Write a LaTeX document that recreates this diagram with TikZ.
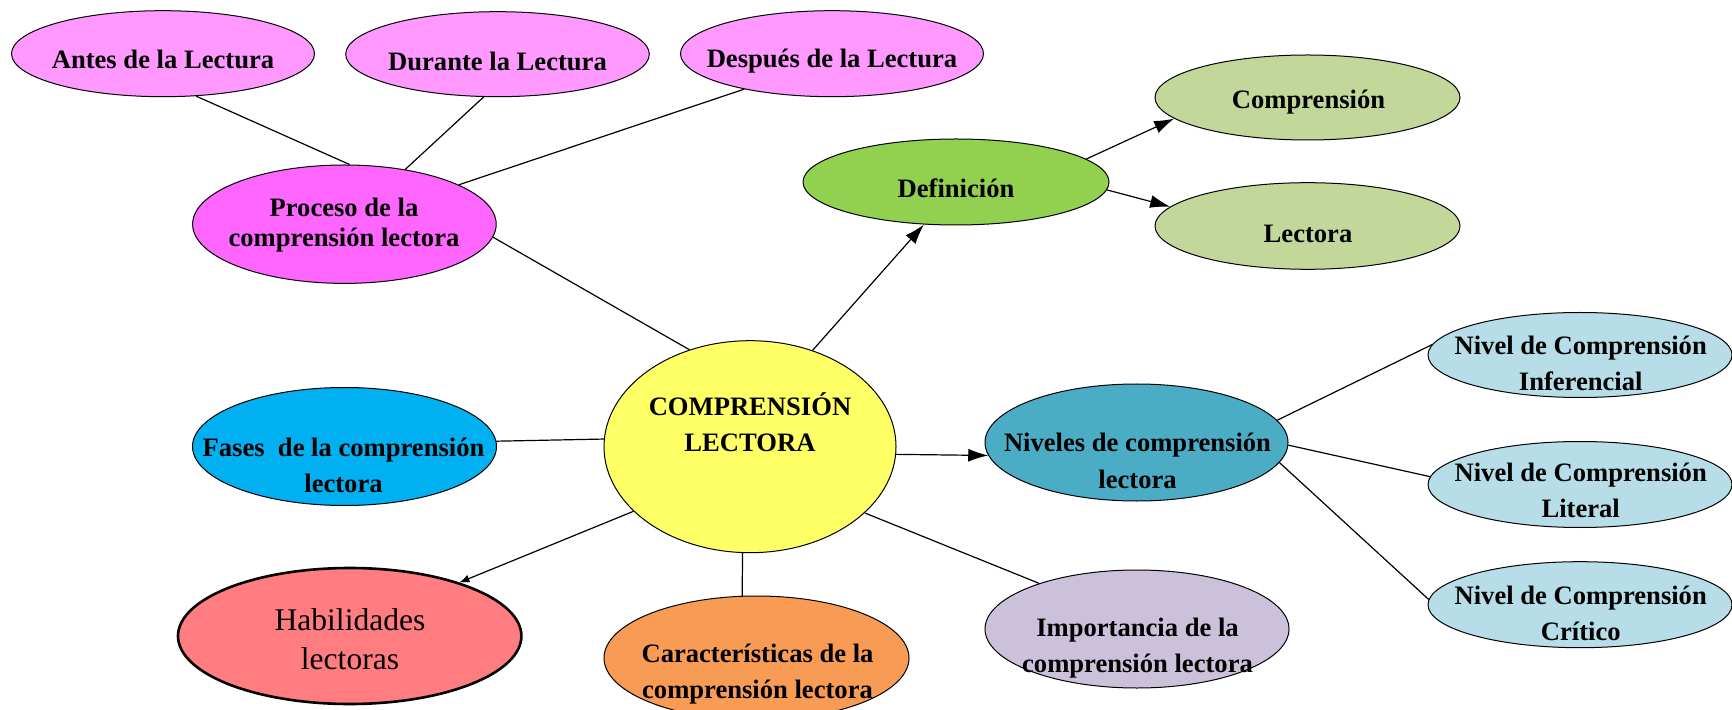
\documentclass[tikz,border=0pt]{standalone}
\usepackage{fontspec}
\setmainfont{Liberation Serif}
\usetikzlibrary{shapes.geometric,arrows.meta}
\definecolor{pinkA}{HTML}{FF99FF}
\definecolor{pinkB}{HTML}{FF66FF}
\definecolor{greenA}{HTML}{92D050}
\definecolor{oliveA}{HTML}{C4D79B}
\definecolor{yellowA}{HTML}{FFFF66}
\definecolor{blueA}{HTML}{00B0F0}
\definecolor{tealA}{HTML}{4BACC6}
\definecolor{lightblue}{HTML}{B7DEE8}
\definecolor{salmonA}{HTML}{FF7C80}
\definecolor{orangeA}{HTML}{F79B55}
\definecolor{lilacA}{HTML}{CCC1DA}
\begin{document}
\begin{tikzpicture}[x=0.5pt,y=-0.5pt,
  ell/.style={ellipse,draw=black,line width=0.5pt,inner sep=0pt},
  txt/.style={align=center,font=\bfseries\fontsize{13.3}{18}\selectfont,inner sep=0pt},
  conn/.style={line width=0.6pt},
  arr/.style={line width=0.6pt,-{Latex[length=10pt,width=6.5pt]}}]
\useasboundingbox (0,0) rectangle (1732,710);
\clip (0,0) rectangle (1732,710);
% ellipses
\node[ell,fill=pinkA,minimum width=151.5pt,minimum height=43pt] (antes) at (163,53.7) {};
\node[ell,fill=pinkA,minimum width=151.8pt,minimum height=42.5pt] (durante) at (497.5,54.2) {};
\node[ell,fill=pinkA,minimum width=151.5pt,minimum height=43pt] (despues) at (832,53.7) {};
\node[ell,fill=pinkB,minimum width=151.8pt,minimum height=59.2pt] (proceso) at (344.4,224.2) {};
\node[ell,fill=greenA,minimum width=153pt,minimum height=43pt] (definicion) at (956,182) {};
\node[ell,fill=oliveA,minimum width=152.5pt,minimum height=42.5pt] (comprension) at (1307.5,97.5) {};
\node[ell,fill=oliveA,minimum width=152.5pt,minimum height=43.3pt] (lectora) at (1307.5,226) {};
\node[ell,fill=yellowA,minimum width=146pt,minimum height=106pt] (central) at (750,446.7) {};
\node[ell,fill=blueA,minimum width=152pt,minimum height=59pt] (fases) at (344.5,446.5) {};
\node[ell,fill=tealA,minimum width=151.5pt,minimum height=58.5pt] (niveles) at (1136.5,442.5) {};
\node[ell,fill=lightblue,minimum width=152pt,minimum height=42.5pt] (inferencial) at (1580,355) {};
\node[ell,fill=lightblue,minimum width=152pt,minimum height=43pt] (literal) at (1580,484.5) {};
\node[ell,fill=lightblue,minimum width=152pt,minimum height=43pt] (critico) at (1580,604.7) {};
\node[ell,fill=salmonA,line width=1.3pt,minimum width=171.7pt,minimum height=68pt] (habilidades) at (349.7,636) {};
\node[ell,fill=orangeA,minimum width=152.5pt,minimum height=62pt] (caract) at (756.5,658) {};
\node[ell,fill=lilacA,minimum width=152pt,minimum height=59pt] (importancia) at (1137,629) {};
% texts
\node[txt] (t-antes) at (163,59) {Antes de la Lectura};
\node[txt] (t-durante) at (497.5,61) {Durante la Lectura};
\node[txt] (t-despues) at (832,61) {Después de la Lectura};
\node[txt,font=\bfseries\fontsize{13.3}{14.7}\selectfont] (t-proceso) at (344,225) {Proceso de la\\comprensión lectora};
\node[txt] (t-definicion) at (956,188) {Definición};
\node[txt] (t-comprension) at (1308.5,102.5) {Comprensión};
\node[txt] (t-lectora) at (1308,234) {Lectora};
\node[txt] (t-central) at (750,422) {COMPRENSIÓN\\LECTORA};
\node[txt] (t-fases) at (343.5,465.5) {Fases\ \ de la comprensión\\lectora};
\node[txt,font=\bfseries\fontsize{13.3}{18.2}\selectfont] (t-niveles) at (1137.5,461) {Niveles de comprensión\\lectora};
\node[txt] (t-inferencial) at (1580.7,363) {Nivel de Comprensión\\Inferencial};
\node[txt] (t-literal) at (1580.7,490.5) {Nivel de Comprensión\\Literal};
\node[txt] (t-critico) at (1580.7,613) {Nivel de Comprensión\\Crítico};
\node[txt,font=\fontsize{15.8}{19.2}\selectfont] (t-habilidades) at (350,639) {Habilidades\\lectoras};
\node[txt] (t-caract) at (757.5,674.5) {Características de la\\comprensión lectora};
\node[txt] (t-importancia) at (1137.5,648) {Importancia de la\\comprensión lectora};
% connectors
\draw[conn] (antes.-52) -- (proceso.85);
\draw[conn] (durante.-108) -- (proceso.42.4);
\draw[conn] (despues.-158) -- (proceso.19.8);
\draw[conn] (proceso.-5.4) -- (central.122.5);
\draw[arr] (central.57) -- (definicion.-127.7);
\draw[arr] (definicion.10.4) -- (comprension.189.3);
\draw[arr] (definicion.-3) -- (lectora.172.9);
\draw[conn] (fases.2.85) -- (central.177);
\draw[arr] (central.-3.5) -- (niveles.185.1);
\draw[conn] (niveles.9.7) -- (inferencial.176.8);
\draw[conn] (niveles.-1.8) -- (literal.177.6);
\draw[conn] (niveles.-8.6) -- (critico.178.2);
\draw[line width=0.6pt,-{Latex[length=5pt,width=4pt]}] (central.209.2) -- (habilidades.26.5);
\draw[conn] (central.-94.2) -- (caract.103.4);
\draw[conn] (central.-30.9) -- (importancia.155.9);
\end{tikzpicture}
\end{document}
